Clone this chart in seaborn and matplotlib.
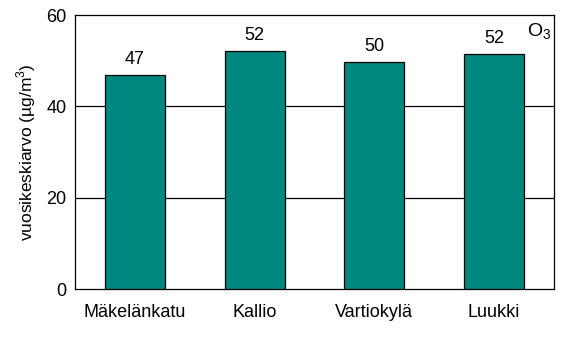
import matplotlib
matplotlib.use("Agg")
import matplotlib.pyplot as plt
import seaborn as sns
import pandas as pd

categories = ["Mäkelänkatu", "Kallio", "Vartiokylä", "Luukki"]
values = [46.8, 52.1, 49.6, 51.4]
labels = ["47", "52", "50", "52"]
yticks = [0, 20, 40, 60]

sns.set_style("white")
plt.rcParams['font.family'] = ['Liberation Sans', 'DejaVu Sans']
plt.rcParams['mathtext.fontset'] = 'custom'
plt.rcParams['mathtext.rm'] = 'Liberation Sans'
plt.rcParams['text.color'] = 'black'
plt.rcParams['axes.labelcolor'] = 'black'

fig = plt.figure(figsize=(5.67, 3.42), dpi=100)
ax = fig.add_axes([75/567, 1 - 289/342, (554-75)/567, (289-15)/342])

df = pd.DataFrame({"cat": categories, "val": values})
sns.barplot(data=df, x="cat", y="val", color="#00877F", saturation=1,
            width=0.5, edgecolor="black", linewidth=0.9, ax=ax, zorder=3)

ax.set_ylim(0, 60)
ax.set_yticks(yticks)
ax.set_xlim(-0.5, 3.5)
for y in [20, 40]:
    ax.axhline(y, color="black", linewidth=0.9, zorder=1)
for s in ax.spines.values():
    s.set_visible(True)
    s.set_color("black")
    s.set_linewidth(0.9)
ax.tick_params(axis="both", length=0, labelsize=13, colors="black", pad=6)
ax.tick_params(axis="x", pad=11)
ax.set_xlabel("")
ax.set_ylabel("vuosikeskiarvo (µg/m$^3$)", fontsize=12.5, labelpad=6, color="black")

for i, (v, l) in enumerate(zip(values, labels)):
    ax.text(i, v + 1.6, l, ha="center", va="bottom", fontsize=13, color="black")

ax.text(3.38, 56.3, "O$_3$", ha="center", va="center", fontsize=14, color="black")

fig.savefig("out.png", dpi=100)
